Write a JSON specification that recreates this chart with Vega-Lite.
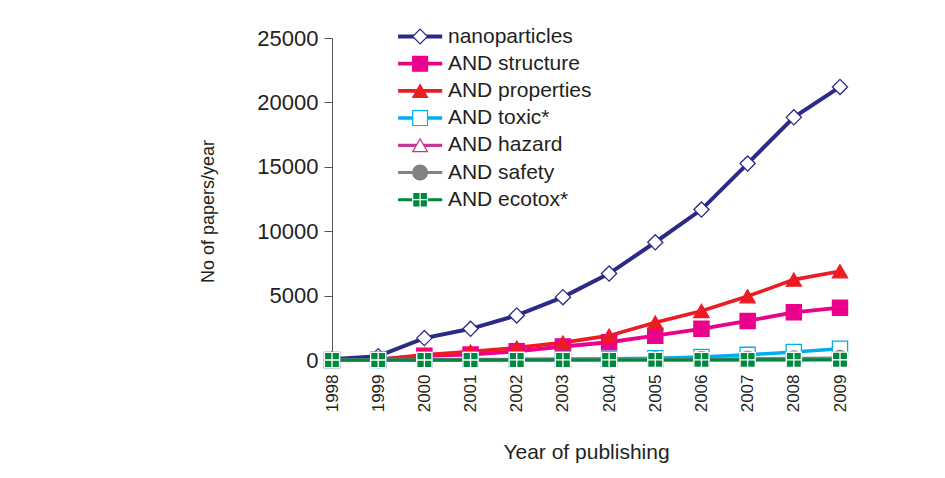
{
  "$schema": "https://vega.github.io/schema/vega-lite/v6.json",
  "width": 508,
  "height": 322,
  "autosize": {"type": "none"},
  "padding": {"left": 332, "top": 38, "right": 105, "bottom": 118},
  "background": "white",
  "config": {
    "view": {"stroke": null},
    "font": "Liberation Sans",
    "axis": {"labelColor": "#231f20", "titleColor": "#231f20", "titleFontWeight": "normal", "grid": false},
    "legend": {"labelColor": "#231f20"}
  },
  "data": {
    "values": [
      {"year": 1998, "series": "nanoparticles", "papers": 50},
      {"year": 1999, "series": "nanoparticles", "papers": 300},
      {"year": 2000, "series": "nanoparticles", "papers": 1700},
      {"year": 2001, "series": "nanoparticles", "papers": 2420},
      {"year": 2002, "series": "nanoparticles", "papers": 3460},
      {"year": 2003, "series": "nanoparticles", "papers": 4880},
      {"year": 2004, "series": "nanoparticles", "papers": 6710},
      {"year": 2005, "series": "nanoparticles", "papers": 9140},
      {"year": 2006, "series": "nanoparticles", "papers": 11680},
      {"year": 2007, "series": "nanoparticles", "papers": 15250},
      {"year": 2008, "series": "nanoparticles", "papers": 18840},
      {"year": 2009, "series": "nanoparticles", "papers": 21200},
      {"year": 1998, "series": "AND structure", "papers": 0},
      {"year": 1999, "series": "AND structure", "papers": 20},
      {"year": 2000, "series": "AND structure", "papers": 330},
      {"year": 2001, "series": "AND structure", "papers": 420},
      {"year": 2002, "series": "AND structure", "papers": 680},
      {"year": 2003, "series": "AND structure", "papers": 1050},
      {"year": 2004, "series": "AND structure", "papers": 1380},
      {"year": 2005, "series": "AND structure", "papers": 1890},
      {"year": 2006, "series": "AND structure", "papers": 2420},
      {"year": 2007, "series": "AND structure", "papers": 3030},
      {"year": 2008, "series": "AND structure", "papers": 3700},
      {"year": 2009, "series": "AND structure", "papers": 4060},
      {"year": 1998, "series": "AND properties", "papers": 0},
      {"year": 1999, "series": "AND properties", "papers": 30},
      {"year": 2000, "series": "AND properties", "papers": 400},
      {"year": 2001, "series": "AND properties", "papers": 650},
      {"year": 2002, "series": "AND properties", "papers": 960},
      {"year": 2003, "series": "AND properties", "papers": 1350},
      {"year": 2004, "series": "AND properties", "papers": 1890},
      {"year": 2005, "series": "AND properties", "papers": 2910},
      {"year": 2006, "series": "AND properties", "papers": 3810},
      {"year": 2007, "series": "AND properties", "papers": 4950},
      {"year": 2008, "series": "AND properties", "papers": 6240},
      {"year": 2009, "series": "AND properties", "papers": 6890},
      {"year": 1998, "series": "AND toxic*", "papers": 0},
      {"year": 1999, "series": "AND toxic*", "papers": 5},
      {"year": 2000, "series": "AND toxic*", "papers": 20},
      {"year": 2001, "series": "AND toxic*", "papers": 30},
      {"year": 2002, "series": "AND toxic*", "papers": 50},
      {"year": 2003, "series": "AND toxic*", "papers": 70},
      {"year": 2004, "series": "AND toxic*", "papers": 90},
      {"year": 2005, "series": "AND toxic*", "papers": 140},
      {"year": 2006, "series": "AND toxic*", "papers": 230},
      {"year": 2007, "series": "AND toxic*", "papers": 400},
      {"year": 2008, "series": "AND toxic*", "papers": 620},
      {"year": 2009, "series": "AND toxic*", "papers": 870},
      {"year": 1998, "series": "AND hazard", "papers": 0},
      {"year": 1999, "series": "AND hazard", "papers": 0},
      {"year": 2000, "series": "AND hazard", "papers": 2},
      {"year": 2001, "series": "AND hazard", "papers": 3},
      {"year": 2002, "series": "AND hazard", "papers": 5},
      {"year": 2003, "series": "AND hazard", "papers": 6},
      {"year": 2004, "series": "AND hazard", "papers": 8},
      {"year": 2005, "series": "AND hazard", "papers": 10},
      {"year": 2006, "series": "AND hazard", "papers": 14},
      {"year": 2007, "series": "AND hazard", "papers": 18},
      {"year": 2008, "series": "AND hazard", "papers": 22},
      {"year": 2009, "series": "AND hazard", "papers": 28},
      {"year": 1998, "series": "AND safety", "papers": 0},
      {"year": 1999, "series": "AND safety", "papers": 2},
      {"year": 2000, "series": "AND safety", "papers": 10},
      {"year": 2001, "series": "AND safety", "papers": 15},
      {"year": 2002, "series": "AND safety", "papers": 20},
      {"year": 2003, "series": "AND safety", "papers": 30},
      {"year": 2004, "series": "AND safety", "papers": 40},
      {"year": 2005, "series": "AND safety", "papers": 55},
      {"year": 2006, "series": "AND safety", "papers": 70},
      {"year": 2007, "series": "AND safety", "papers": 95},
      {"year": 2008, "series": "AND safety", "papers": 120},
      {"year": 2009, "series": "AND safety", "papers": 150},
      {"year": 1998, "series": "AND ecotox*", "papers": 0},
      {"year": 1999, "series": "AND ecotox*", "papers": 0},
      {"year": 2000, "series": "AND ecotox*", "papers": 1},
      {"year": 2001, "series": "AND ecotox*", "papers": 1},
      {"year": 2002, "series": "AND ecotox*", "papers": 2},
      {"year": 2003, "series": "AND ecotox*", "papers": 3},
      {"year": 2004, "series": "AND ecotox*", "papers": 4},
      {"year": 2005, "series": "AND ecotox*", "papers": 6},
      {"year": 2006, "series": "AND ecotox*", "papers": 8},
      {"year": 2007, "series": "AND ecotox*", "papers": 11},
      {"year": 2008, "series": "AND ecotox*", "papers": 14},
      {"year": 2009, "series": "AND ecotox*", "papers": 18}
    ]
  },
  "encoding": {
    "x": {
      "field": "year", "type": "ordinal",
      "scale": {"type": "point", "padding": 0},
      "axis": {
        "title": "Year of publishing", "titleFontSize": 21, "titleY": 92, "titleBaseline": "middle",
        "labelAngle": 270, "labelAlign": "right", "labelBaseline": "middle", "labelFontSize": 17,
        "labelPadding": 14, "ticks": false, "tickSize": 0, "domain": false
      }
    },
    "y": {
      "field": "papers", "type": "quantitative",
      "scale": {"domain": [0, 25000], "nice": false},
      "axis": {
        "title": "No of papers/year", "titleFontSize": 18, "titleX": -124, "titleY": 173,
        "titleAlign": "center", "titleBaseline": "middle", "titleAngle": 270,
        "values": [0, 5000, 10000, 15000, 20000, 25000], "format": "d",
        "labelFontSize": 22, "labelPadding": 6, "tickSize": 8, "tickColor": "#555555",
        "domainColor": "#555555"
      }
    }
  },
  "layer": [
    {
      "mark": {"type": "line"},
      "encoding": {
        "color": {
          "field": "series", "type": "nominal",
          "scale": {
            "domain": ["nanoparticles", "AND structure", "AND properties", "AND toxic*", "AND hazard", "AND safety", "AND ecotox*"],
            "range": ["#2b2a87", "#ec008c", "#ed1c24", "#00aeef", "#c2389a", "#808285", "#00893e"]
          },
          "legend": {
            "title": null, "orient": "none", "legendX": 63, "legendY": -12, "padding": 0,
            "symbolType": "M-3,0H3", "symbolSize": 216, "symbolStrokeWidth": 3,
            "symbolOffset": 14.65, "labelOffset": 17.3, "labelFontSize": 21, "rowPadding": 5.2
          }
        },
        "strokeWidth": {
          "field": "series", "type": "nominal",
          "scale": {
            "domain": ["nanoparticles", "AND structure", "AND properties", "AND toxic*", "AND hazard", "AND safety", "AND ecotox*"],
            "range": [4, 3, 3, 3, 3, 3, 3]
          },
          "legend": null
        }
      }
    },
    {
      "mark": {"type": "point", "filled": true, "strokeWidth": 1.3, "size": 230, "opacity": 1},
      "encoding": {
        "shape": {
          "field": "series", "type": "nominal",
          "sort": ["nanoparticles", "AND structure", "AND properties", "AND toxic*", "AND hazard", "AND safety", "AND ecotox*"],
          "scale": {"range": ["diamond", "square", "triangle-up", "square", "triangle-up", "circle", "M-1,-1H0V0H-1Z M0,-1H1V0H0Z M-1,0H0V1H-1Z M0,0H1V1H0Z"]},
          "legend": {
            "title": null, "orient": "none", "legendX": 77.6, "legendY": -12, "padding": 0,
            "symbolSize": 220, "symbolStrokeWidth": 1.2, "labelExpr": "''", "labelFontSize": 21, "rowPadding": 5.2,
            "symbolOpacity": 1,
            "symbolFillColor": {"expr": "scale('fill', datum.value)"},
            "symbolStrokeColor": {"expr": "scale('stroke', datum.value)"}
          }
        },
        "fill": {
          "field": "series", "type": "nominal",
          "sort": ["nanoparticles", "AND structure", "AND properties", "AND toxic*", "AND hazard", "AND safety", "AND ecotox*"],
          "scale": {"range": ["#ffffff", "#ec008c", "#ed1c24", "#ffffff", "#ffffff", "#808285", "#00893e"]},
          "legend": null
        },
        "stroke": {
          "field": "series", "type": "nominal",
          "sort": ["nanoparticles", "AND structure", "AND properties", "AND toxic*", "AND hazard", "AND safety", "AND ecotox*"],
          "scale": {"range": ["#2b2a87", "#ec008c", "#ed1c24", "#00aeef", "#c2389a", "#808285", "#ffffff"]},
          "legend": null
        }
      }
    }
  ]
}
